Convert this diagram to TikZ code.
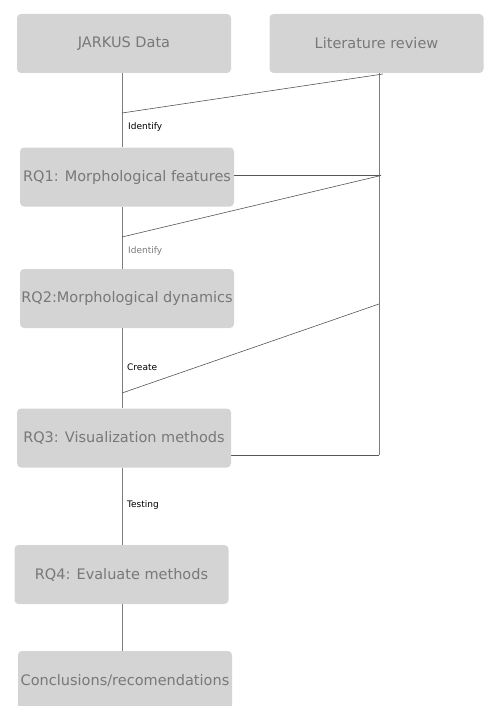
\documentclass[tikz,border=0pt]{standalone}
\usepackage{fontspec}
\setmainfont{DejaVu Sans}
\usepackage{tikz}
\pgfdeclarelayer{edgelayer}
\pgfdeclarelayer{nodelayer}
\pgfsetlayers{edgelayer,nodelayer,main}
\definecolor{boxfill}{RGB}{212,212,212}
\definecolor{boxtext}{RGB}{120,120,120}
\definecolor{edgegray}{RGB}{125,125,125}
\definecolor{slantgray}{RGB}{85,85,85}
\tikzstyle{none} = []
\tikzstyle{box} = [rectangle, rounded corners=4pt, fill=boxfill, text=boxtext, minimum width=214pt, minimum height=59pt, inner sep=0pt, font=\fontsize{14.5}{16}\selectfont]
\tikzstyle{tag} = [anchor=west, inner sep=0pt, font=\fontsize{9}{10}\selectfont]
\tikzstyle{edge} = [draw=edgegray, line width=0.8pt]
\tikzstyle{slant} = [draw=slantgray, line width=0.6pt]

\begin{document}
\begin{tikzpicture}[x=10pt, y=10pt]
	\useasboundingbox (0, 0) rectangle (48.3, -70.6);
	\begin{pgfonlayer}{nodelayer}
		\node [style=box] (0) at (12.4, -4.35) {JARKUS Data};
		\node [style=box] (1) at (37.65, -4.35) {Literature review};
		\node [style=box] (2) at (12.7, -17.7) {RQ1: Morphological features};
		\node [style=box] (3) at (12.7, -29.85) {RQ2:Morphological dynamics};
		\node [style=box] (4) at (12.4, -43.8) {RQ3: Visualization methods};
		\node [style=box] (5) at (12.15, -57.45) {RQ4: Evaluate methods};
		\node [style=box] (6) at (12.5, -68.05) {Conclusions/recomendations};
		\node [style=tag, text=black] (7) at (12.8, -12.7) {Identify};
		\node [style=tag, text=boxtext] (8) at (12.8, -25.1) {Identify};
		\node [style=tag, text=black] (9) at (12.7, -36.7) {Create};
		\node [style=tag, text=black] (10) at (12.7, -50.5) {Testing};
		\coordinate (11) at (12.2, 0);
		\coordinate (12) at (37.9, 0);
		\coordinate (13) at (38.3, -7.4);
		\coordinate (14) at (12.2, -11.3);
		\coordinate (15) at (38.1, -17.55);
		\coordinate (16) at (12.2, -23.7);
		\coordinate (17) at (37.9, -30.4);
		\coordinate (18) at (12.2, -39.3);
		\coordinate (19) at (37.9, -45.5);
	\end{pgfonlayer}
	\begin{pgfonlayer}{edgelayer}
		\draw [style=edge] (0.south -| 11) to (2.north -| 11);
		\draw [style=edge] (2.south -| 11) to (3.north -| 11);
		\draw [style=edge] (3.south -| 11) to (4.north -| 11);
		\draw [style=edge] (4.south -| 11) to (5.north -| 11);
		\draw [style=edge] (5.south -| 11) to (6.north -| 11);
		\draw [style=edge] (1.south -| 12) to (19);
		\draw [style=slant] (13) to (14);
		\draw [style=slant] (2.east |- 15) to (15);
		\draw [style=slant] (15) to (16);
		\draw [style=slant] (17) to (18);
		\draw [style=slant] (4.east |- 19) to (19);
	\end{pgfonlayer}
\end{tikzpicture}
\end{document}
